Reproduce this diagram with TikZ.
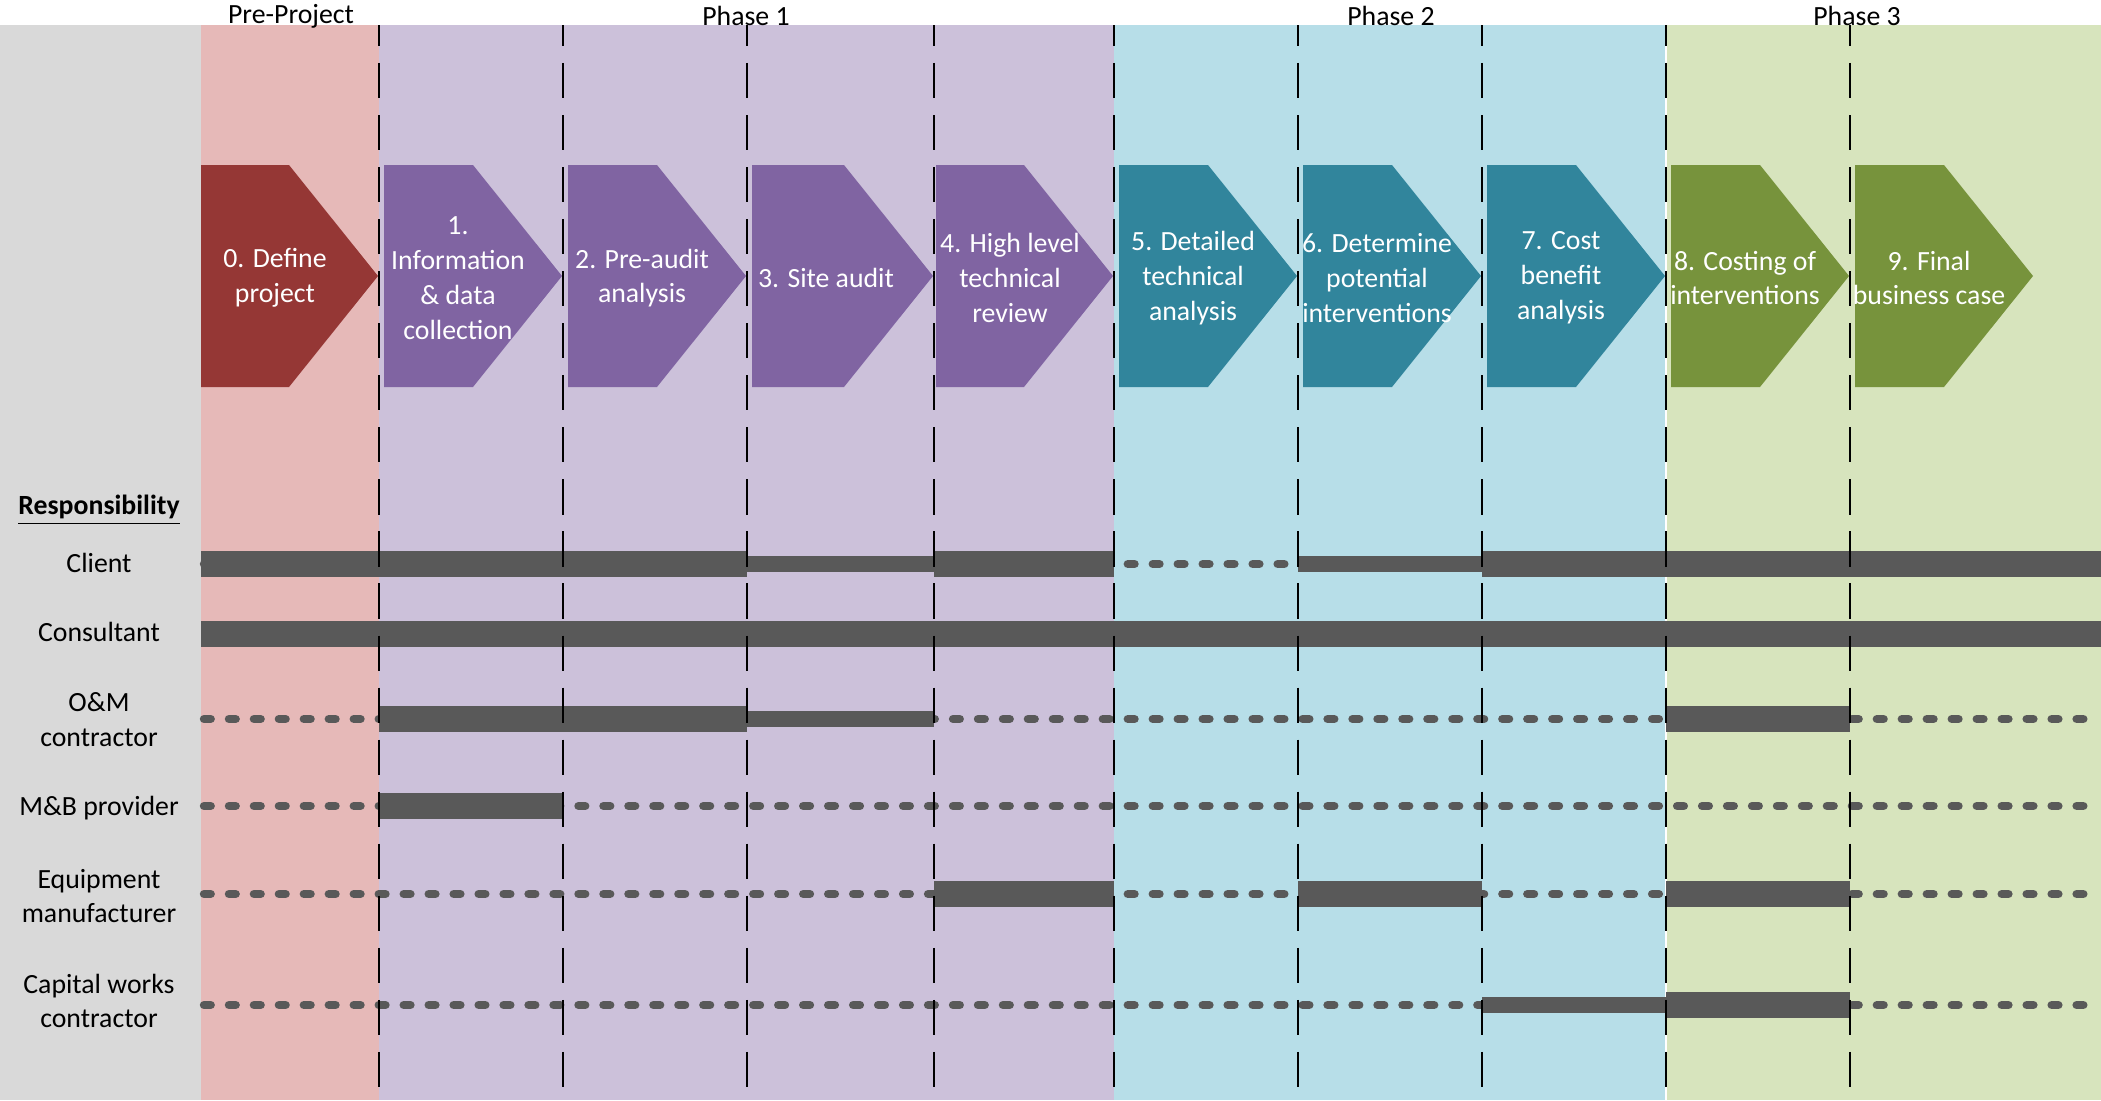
\documentclass[tikz,border=0pt]{standalone}
\usepackage{fontspec}
\setmainfont{Carlito}
\usepackage{tikz}
\usetikzlibrary{calc}
\definecolor{greybg}{HTML}{D9D9D9}
\definecolor{prebg}{HTML}{E6B9B8}
\definecolor{onebg}{HTML}{CCC1DA}
\definecolor{twobg}{HTML}{B7DEE8}
\definecolor{threebg}{HTML}{D7E4BD}
\definecolor{prestep}{HTML}{953735}
\definecolor{onestep}{HTML}{8064A2}
\definecolor{twostep}{HTML}{31859C}
\definecolor{threestep}{HTML}{77933C}
\definecolor{bar}{HTML}{595959}
\tikzset{
  txt/.style={font=\fontsize{7.9}{9.9}\selectfont, align=center, inner sep=0pt},
  steplab/.style={txt, text=white},
  rowlab/.style={txt, text=black},
  full/.style={draw=bar, line width=7.3pt},
  part/.style={draw=bar, line width=4.3pt},
  idle/.style={draw=bar, line width=2.4pt, line cap=round, dash pattern=on 1.9pt off 5.2pt},
  sep/.style={draw=black, line width=0.6pt, dash pattern=on 10pt off 4.8pt, dash phase=4pt},
}

\begin{document}
\begin{tikzpicture}[x=0.01cm, y=-0.01cm]
  \useasboundingbox (0,0) rectangle (2101,1100);
  \foreach \x [count=\i from 0] in {201,379,563,747,934,1114,1298,1482,1666,1850,2034,2101}
    \coordinate (c\i) at (\x,25);
  \coordinate (bot) at (0,1100);
  \coordinate (client) at (0,564);
  \coordinate (consult) at (0,634);
  \coordinate (om) at (0,719);
  \coordinate (mb) at (0,806);
  \coordinate (equip) at (0,894);
  \coordinate (capital) at (0,1005);

  % phases
  \fill[greybg] (0,25) rectangle (c0 |- bot);
  \fill[prebg] (c0) rectangle (c1 |- bot);
  \fill[onebg] (c1) rectangle (c5 |- bot);
  \fill[twobg] (c5) rectangle (c8 |- bot);
  \fill[threebg] (c8) rectangle (c11 |- bot);
  \draw[white, line width=0.5pt] (c8) -- (c8 |- bot);
  \node[rowlab] (pre) at (291,16) {Pre-Project};
  \node[rowlab] (ph1) at (746,16) {Phase 1};
  \node[rowlab] (ph2) at (1391,16) {Phase 2};
  \node[rowlab] (ph3) at (1857,16) {Phase 3};

  % steps
  \foreach \i/\l/\col/\txt in {0/201/prestep/{0. Define\\project},
      1/384/onestep/{1.\\Information\\\& data\\collection},
      2/568/onestep/{2. Pre-audit\\analysis},
      3/752/onestep/{3. Site audit},
      4/936/onestep/{4. High level\\technical\\review},
      5/1119/twostep/{5. Detailed\\technical\\analysis},
      6/1303/twostep/{6. Determine\\potential\\interventions},
      7/1487/twostep/{7. Cost\\benefit\\analysis},
      8/1671/threestep/{8. Costing of\\interventions},
      9/1855/threestep/{9. Final\\business case}} {
    \pgfmathtruncatemacro{\j}{\i+1}
    \fill[\col] (\l,165) -- ($(c\j)+(-90,140)$) -- ($(c\j)+(-1,251)$)
      -- ($(c\j)+(-90,362)$) -- (\l,387) -- cycle;
    \node[steplab] (s\i) at (\l+74,278) {\txt};
  }

  % responsibility
  \node[rowlab, font=\fontsize{7.9}{9.9}\selectfont\bfseries] (resp) at (99,510) {\underline{Responsibility}};
  \node[rowlab] (lclient) at (99,563) {Client};
  \node[rowlab] (lconsult) at (99,632) {Consultant};
  \node[rowlab] (lom) at (99,720) {O\&M\\contractor};
  \node[rowlab] (lmb) at (99,808) {M\&B provider};
  \node[rowlab] (lequip) at (99,896) {Equipment\\manufacturer};
  \node[rowlab] (lcap) at (99,1001) {Capital works\\contractor};

  \foreach \r in {client,om,mb,equip,capital}
    \draw[idle] ($(c0 |- \r)+(3,0)$) -- (c11 |- \r);
  \draw[full] (c0 |- client) -- (c3 |- client) (c4 |- client) -- (c5 |- client) (c7 |- client) -- (c11 |- client);
  \draw[part] (c3 |- client) -- (c4 |- client) (c6 |- client) -- (c7 |- client);
  \draw[full] (c0 |- consult) -- (c11 |- consult);
  \draw[full] (c1 |- om) -- (c3 |- om) (c8 |- om) -- (c9 |- om);
  \draw[part] (c3 |- om) -- (c4 |- om);
  \draw[full] (c1 |- mb) -- (c2 |- mb);
  \draw[full] (c4 |- equip) -- (c5 |- equip) (c6 |- equip) -- (c7 |- equip) (c8 |- equip) -- (c9 |- equip);
  \draw[part] (c7 |- capital) -- (c8 |- capital);
  \draw[full] (c8 |- capital) -- (c9 |- capital);

  \foreach \i in {1,...,9}
    \draw[sep] (c\i) -- (c\i |- bot);
\end{tikzpicture}
\end{document}
